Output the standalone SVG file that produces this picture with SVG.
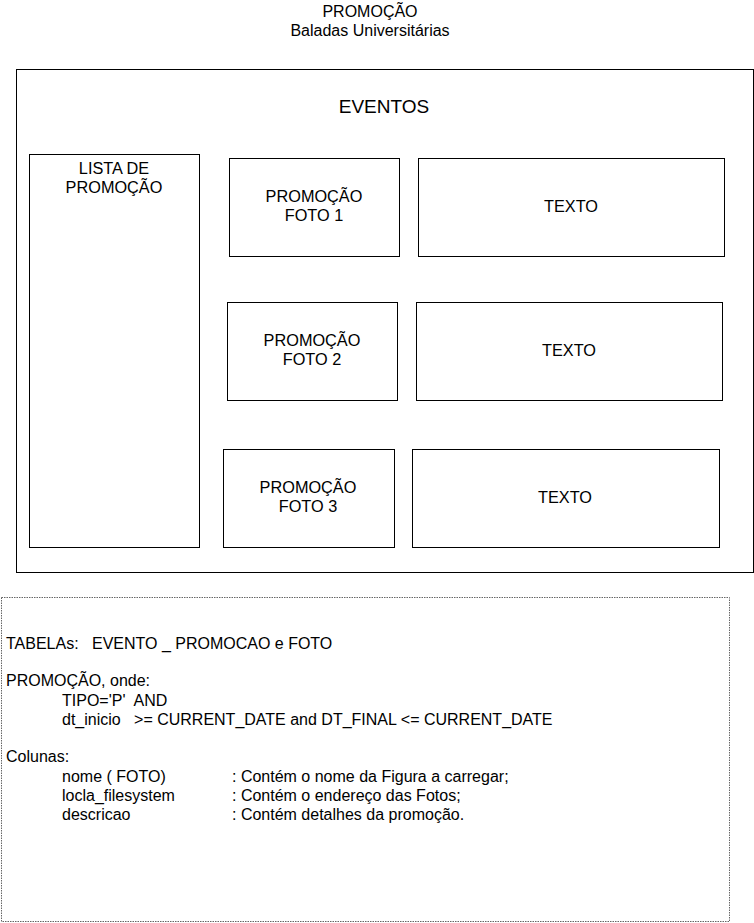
<svg xmlns="http://www.w3.org/2000/svg" width="754" height="923" viewBox="0 0 754 923">
<style>
text{font-family:"Liberation Sans",Arial,sans-serif;fill:#000}
.box{fill:#fff;stroke:#000;stroke-width:1}
.c{text-anchor:middle;font-size:16.3px}
.h{text-anchor:middle;font-size:16px}
.t{font-size:16px;white-space:pre}
</style>
<rect width="754" height="923" fill="#fff"/>
<g id="title">
<text class="h" x="370" y="17">PROMOÇÃO</text>
<text class="h" x="370" y="36">Baladas Universitárias</text>
</g>
<g id="eventos">
<rect class="box" x="16.5" y="69.5" width="737" height="503"/>
<text x="384" y="113" text-anchor="middle" font-size="19">EVENTOS</text>
</g>
<g id="lista">
<rect class="box" x="29.5" y="154.5" width="170" height="393"/>
<text class="c" x="114" y="174">LISTA DE</text>
<text class="c" x="114" y="193">PROMOÇÃO</text>
</g>
<g id="foto1">
<rect class="box" x="229.5" y="158.5" width="170" height="98"/>
<text class="c" x="314" y="202">PROMOÇÃO</text>
<text class="c" x="314" y="221">FOTO 1</text>
</g>
<g id="texto1">
<rect class="box" x="418.5" y="158.5" width="306" height="98"/>
<text class="c" x="571" y="212">TEXTO</text>
</g>
<g id="foto2">
<rect class="box" x="227.5" y="302.5" width="170" height="98"/>
<text class="c" x="312" y="346">PROMOÇÃO</text>
<text class="c" x="312" y="365">FOTO 2</text>
</g>
<g id="texto2">
<rect class="box" x="416.5" y="302.5" width="306" height="98"/>
<text class="c" x="569" y="356">TEXTO</text>
</g>
<g id="foto3">
<rect class="box" x="223.5" y="449.5" width="171" height="98"/>
<text class="c" x="308" y="493">PROMOÇÃO</text>
<text class="c" x="308" y="512">FOTO 3</text>
</g>
<g id="texto3">
<rect class="box" x="412.5" y="449.5" width="307" height="98"/>
<text class="c" x="565" y="503">TEXTO</text>
</g>
<g id="connectors"></g>
<g id="notes">
<rect x="1.5" y="597.5" width="728" height="324" fill="none" stroke="#666" stroke-width="1" stroke-dasharray="1.5,1"/>
<text class="t" x="6" y="649">TABELAs:   EVENTO _ PROMOCAO e FOTO</text>
<text class="t" x="6" y="686">PROMOÇÃO, onde:</text>
<text class="t" x="62" y="706">TIPO='P'  AND</text>
<text class="t" x="62" y="725">dt_inicio   &gt;= CURRENT_DATE and DT_FINAL &lt;= CURRENT_DATE</text>
<text class="t" x="6" y="762">Colunas:</text>
<text class="t" x="62" y="782">nome ( FOTO)</text>
<text class="t" x="62" y="801">locla_filesystem</text>
<text class="t" x="62" y="820">descricao</text>
<text class="t" x="232" y="782">: Contém o nome da Figura a carregar;</text>
<text class="t" x="232" y="801">: Contém o endereço das Fotos;</text>
<text class="t" x="232" y="820">: Contém detalhes da promoção.</text>
</g>
</svg>
